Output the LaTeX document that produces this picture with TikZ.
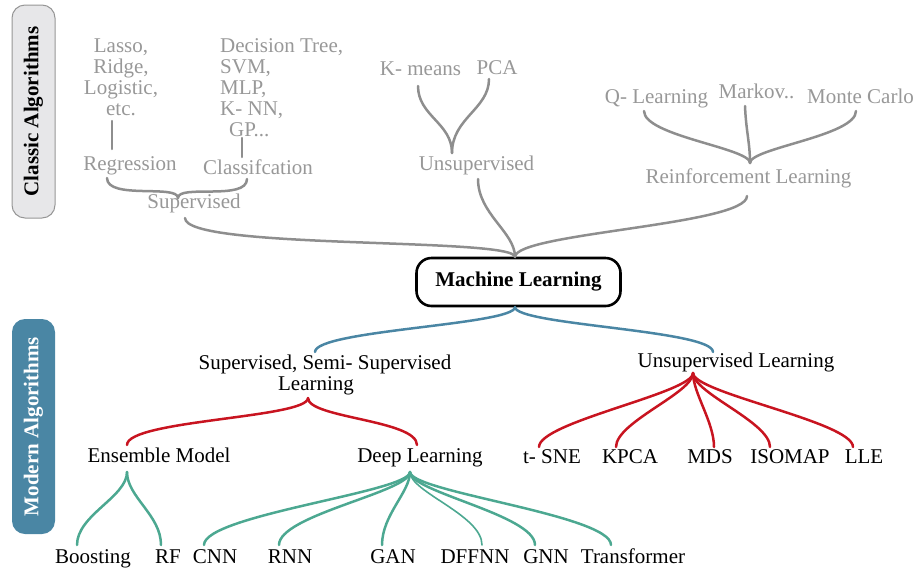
\documentclass[tikz,border=0pt]{standalone}
\usepackage{fontspec}
\setmainfont{Liberation Serif}
\definecolor{txgray}{RGB}{152,152,152}
\definecolor{lngray}{RGB}{142,142,142}
\definecolor{boxfill}{RGB}{231,231,233}
\definecolor{boxline}{RGB}{150,150,150}
\definecolor{mblue}{RGB}{74,134,164}
\definecolor{mred}{RGB}{200,20,32}
\definecolor{mgreen}{RGB}{76,168,145}
\begin{document}
\begin{tikzpicture}[x=1pt,y=-1pt,
  lbl/.style={font=\fontsize{21}{21}\selectfont, inner sep=0pt, anchor=base},
  glbl/.style={lbl, text=txgray},
  stack/.style={font=\fontsize{21}{21}\selectfont, inner sep=0pt, anchor=north, text=txgray},
  sidebox/.style={rotate=90, rounded corners=13pt, inner sep=0pt,
    font=\fontsize{21}{21}\selectfont\bfseries, minimum height=43pt},
  conn/.style={line width=2.5pt, line cap=round},
  gline/.style={conn, draw=lngray},
  bline/.style={conn, draw=mblue},
  rline/.style={conn, draw=mred},
  tline/.style={conn, draw=mgreen}]
\useasboundingbox (0,0) rectangle (917,571);

% side labels
\node[sidebox, draw=boxline, line width=1pt, fill=boxfill, minimum width=213pt]
  (classic) at (33.5,111.5) {Classic Algorithms};
\node[sidebox, fill=mblue, text=white, minimum width=215pt]
  (modern) at (33.5,426.5) {Modern Algorithms};

% ---------------- classic algorithms ----------------
\node[stack, align=center] (lasso) at (121,39) {Lasso,\\Ridge,\\Logistic,\\etc.};
\node[stack, align=left, anchor=north west] (dtree) at (220,38)
  {Decision Tree,\\SVM,\\MLP,\\K- NN,\\\hspace*{9pt}GP...};
\node[glbl] (reg) at (130,170) {Regression};
\node[glbl] (cla) at (258,174) {Classifcation};
\node[glbl] (sup) at (194,208) {Supervised};

\node[glbl] (kmeans) at (420.5,75) {K- means};
\node[glbl] (pca) at (497,74) {PCA};
\node[glbl] (unsup) at (476.5,170) {Unsupervised};

\node[glbl] (qlearn) at (656.5,103) {Q- Learning};
\node[glbl] (markov) at (756.5,98) {Markov..};
\node[glbl] (monte) at (860.5,103) {Monte Carlo};
\node[glbl] (reinf) at (748.5,183) {Reinforcement Learning};

\node[draw=black, line width=2.6pt, rounded corners=15pt, inner sep=0pt,
  minimum width=204pt, minimum height=48pt,
  font=\fontsize{21}{21}\selectfont\bfseries] (ml) at (518.5,282) {Machine Learning};

% stems and braces of the classic part
\coordinate (regtop) at (112,121);  \coordinate (regbot) at (112,149);
\coordinate (clatop) at (242,138);  \coordinate (clabot) at (242,157);
\coordinate (supl) at (107,178);    \coordinate (supr) at (247,179);
\coordinate (suptip) at (178,198);
\draw[gline] (regtop) -- (regbot);
\draw[gline] (clatop) -- (clabot);
\draw[gline] (supl) .. controls +(0,22) and +(0,-14) .. (suptip);
\draw[gline] (supr) .. controls +(0,22) and +(0,-14) .. (suptip);

\coordinate (kmb) at (418,86);  \coordinate (pcab) at (489,79);
\coordinate (unstip) at (452,153);
\draw[gline] (kmb) .. controls +(0,30) and +(0,-30) .. (unstip);
\draw[gline] (pcab) .. controls +(0,30) and +(0,-35) .. (unstip);

\coordinate (qb) at (644,111);  \coordinate (mkb) at (745,106);
\coordinate (mcb) at (856,111); \coordinate (reitip) at (750,163);
\draw[gline] (qb) .. controls +(0,25) and +(0,-15) .. (reitip);
\draw[gline] (mkb) .. controls +(1,25) and +(0,-20) .. (reitip);
\draw[gline] (mcb) .. controls +(0,25) and +(0,-15) .. (reitip);

\coordinate (supb) at (185,218); \coordinate (unsb) at (478,179);
\coordinate (reib) at (747,196); \coordinate (mltop) at (515,257);
\draw[gline] (supb) .. controls +(0,32) and +(0,-20) .. (mltop);
\draw[gline] (unsb) .. controls +(0,35) and +(0,-25) .. (mltop);
\draw[gline] (reib) .. controls +(0,29) and +(0,-24) .. (mltop);

% ---------------- modern algorithms ----------------
\node[lbl, anchor=north, align=center] (ssl) at (325,355)
  {Supervised, Semi- Supervised\\Learning\hspace*{18pt}};
\node[lbl] (ul) at (736,367) {Unsupervised Learning};

\node[lbl] (ens) at (159,462) {Ensemble Model};
\node[lbl] (deep) at (420,462) {Deep Learning};

\node[lbl] (tsne) at (552,463) {t- SNE};
\node[lbl] (kpca) at (630,463) {KPCA};
\node[lbl] (mds) at (710,463) {MDS};
\node[lbl] (isomap) at (790,463) {ISOMAP};
\node[lbl] (lle) at (864,463) {LLE};

\node[lbl] (boost) at (93,563) {Boosting};
\node[lbl] (rf) at (168,563) {RF};
\node[lbl] (cnn) at (215,563) {CNN};
\node[lbl] (rnn) at (290,563) {RNN};
\node[lbl] (gan) at (393,563) {GAN};
\node[lbl] (dffnn) at (475,563) {DFFNN};
\node[lbl] (gnn) at (546,563) {GNN};
\node[lbl] (trans) at (633,563) {Transformer};

% machine learning -> two families
\coordinate (mlbot) at (515,307);
\coordinate (sslt) at (315,352); \coordinate (ult) at (713,352);
\draw[bline] (mlbot) .. controls +(0,18) and +(0,-22) .. (sslt);
\draw[bline] (mlbot) .. controls +(0,18) and +(0,-22) .. (ult);

% supervised family
\coordinate (sslb) at (308,398);
\coordinate (enst) at (127,445); \coordinate (deept) at (417,445);
\draw[rline] (sslb) .. controls +(0,20) and +(0,-25) .. (enst);
\draw[rline] (sslb) .. controls +(0,20) and +(0,-25) .. (deept);

% unsupervised family
\coordinate (ulb) at (693,373);
\foreach \n/\x in {tsne/539, kpca/616, mds/714, isomap/770, lle/853}{
  \coordinate (\n t) at (\x,447);
  \draw[rline] (ulb) .. controls +(0,20) and +(0,-25) .. (\n t);
}

% ensemble models
\coordinate (ensb) at (127,472);
\coordinate (boostt) at (77,545); \coordinate (rft) at (161,545);
\draw[tline] (ensb) .. controls +(0,25) and +(0,-30) .. (boostt);
\draw[tline] (ensb) .. controls +(0,25) and +(0,-30) .. (rft);

% deep learning models
\coordinate (deepb) at (410,472);
\foreach \n/\x in {cnn/204, rnn/279, gan/382, gnn/535, trans/611}{
  \coordinate (\n t) at (\x,545);
  \draw[tline] (deepb) .. controls +(0,20) and +(0,-30) .. (\n t);
}
\coordinate (dffnnt) at (482,545);
\draw[tline, line width=1.6pt] (deepb) .. controls +(0,20) and +(0,-30) .. (dffnnt);
\end{tikzpicture}
\end{document}
